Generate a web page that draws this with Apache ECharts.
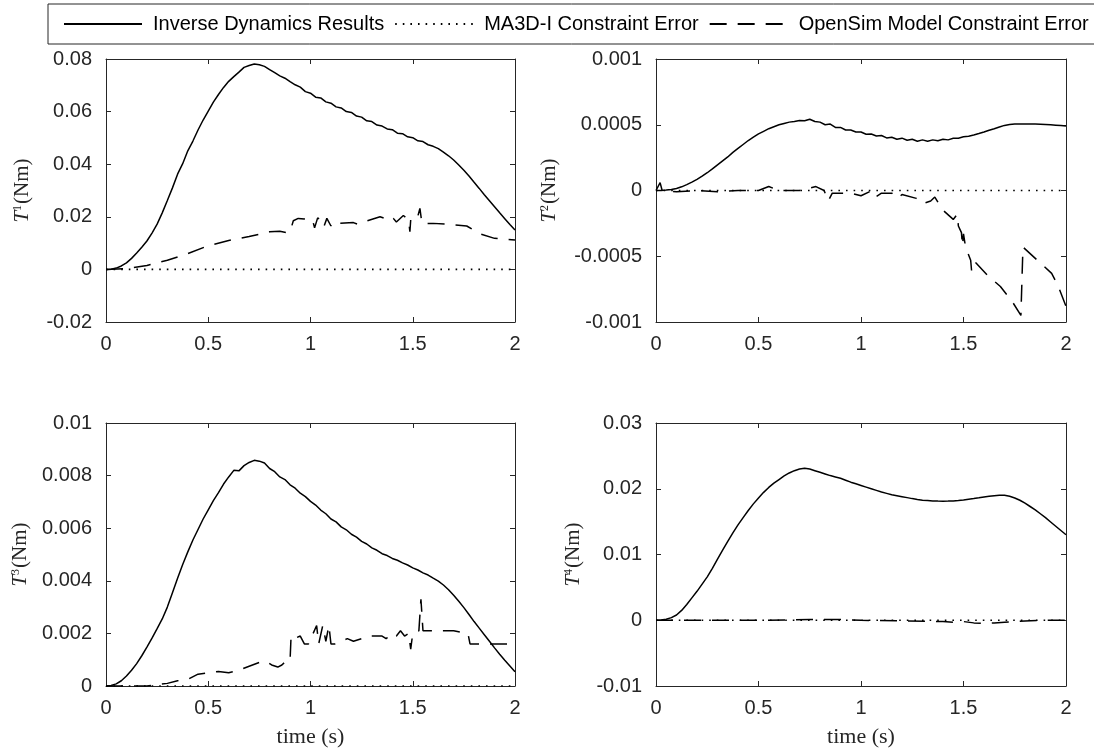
<!DOCTYPE html>
<html><head><meta charset="utf-8">
<script src="https://cdn.jsdelivr.net/npm/echarts@6/dist/echarts.min.js"></script>
<style>html,body{margin:0;padding:0;background:#fff}#c{width:1094px;height:752px}</style>
</head><body><div id="c"></div><script>
// ---- data ----
const seriesNames = ['Inverse Dynamics Results', 'MA3D-I Constraint Error', 'OpenSim Model Constraint Error'];
const xTicks = [0, 0.5, 1, 1.5, 2];
const time = [0,0.025,0.05,0.075,0.1,0.125,0.15,0.175,0.2,0.225,0.25,0.275,0.3,0.325,0.35,0.375,0.4,0.425,0.45,0.475,
  0.5,0.525,0.55,0.575,0.6,0.625,0.65,0.675,0.7,0.725,0.75,0.775,0.8,0.825,0.85,0.875,0.9,0.925,0.95,0.975,
  1.0,1.025,1.05,1.075,1.1,1.125,1.15,1.175,1.2,1.225,1.25,1.275,1.3,1.325,1.35,1.375,1.4,1.425,1.45,1.475,
  1.5,1.525,1.55,1.575,1.6,1.625,1.65,1.675,1.7,1.725,1.75,1.775,1.8,1.825,1.85,1.875,1.9,1.925,1.95,1.975,2.0];

// Inverse dynamics results (Nm)
const t1Solid = [0,0.0001,0.0005,0.0013,0.0025,0.0042,0.0062,0.0084,0.0108,0.0138,0.0172,0.0215,0.0262,0.0310,0.0362,0.0402,
  0.0451,0.0488,0.0530,0.0568,0.0602,0.0636,0.0665,0.0692,0.0715,0.0733,0.0750,0.0768,0.0775,0.0781,0.0778,0.0772,0.0760,
  0.0748,0.0736,0.0727,0.0714,0.0702,0.0693,0.0676,0.0670,0.0655,0.0652,0.0637,0.0632,0.0618,0.0614,0.0600,0.0597,0.0583,
  0.0579,0.0565,0.0562,0.0549,0.0545,0.0534,0.0531,0.0518,0.0516,0.0504,0.0501,0.0489,0.0486,0.0474,0.0468,0.0459,0.0446,
  0.0432,0.0416,0.0397,0.0377,0.0355,0.0331,0.0308,0.0284,0.0261,0.0238,0.0215,0.0193,0.0171,0.0150];
const t2Solid = [0,0.005e-4,0.03e-4,0.08e-4,0.15e-4,0.28e-4,0.45e-4,0.64e-4,0.85e-4,1.09e-4,1.35e-4,1.64e-4,1.95e-4,2.25e-4,
  2.55e-4,2.9e-4,3.2e-4,3.5e-4,3.8e-4,4.05e-4,4.3e-4,4.5e-4,4.7e-4,4.85e-4,5.0e-4,5.1e-4,5.2e-4,5.25e-4,5.33e-4,5.3e-4,
  5.42e-4,5.25e-4,5.2e-4,5.0e-4,5.05e-4,4.8e-4,4.8e-4,4.6e-4,4.6e-4,4.45e-4,4.45e-4,4.28e-4,4.3e-4,4.15e-4,4.18e-4,4.0e-4,
  4.05e-4,3.9e-4,3.98e-4,3.82e-4,3.9e-4,3.75e-4,3.85e-4,3.75e-4,3.85e-4,3.78e-4,3.9e-4,3.85e-4,3.97e-4,3.98e-4,4.08e-4,
  4.12e-4,4.22e-4,4.33e-4,4.45e-4,4.58e-4,4.7e-4,4.83e-4,4.95e-4,5.02e-4,5.05e-4,5.06e-4,5.06e-4,5.06e-4,5.05e-4,5.04e-4,
  5.02e-4,5.0e-4,4.97e-4,4.94e-4,4.9e-4];
const t3Solid = [0,0.02e-3,0.08e-3,0.2e-3,0.38e-3,0.6e-3,0.85e-3,1.15e-3,1.48e-3,1.82e-3,2.18e-3,2.55e-3,3.0e-3,3.55e-3,
  4.1e-3,4.62e-3,5.1e-3,5.55e-3,5.95e-3,6.35e-3,6.7e-3,7.05e-3,7.35e-3,7.68e-3,7.95e-3,8.2e-3,8.18e-3,8.38e-3,8.5e-3,
  8.58e-3,8.55e-3,8.48e-3,8.27e-3,8.15e-3,7.95e-3,7.85e-3,7.65e-3,7.52e-3,7.33e-3,7.2e-3,7.02e-3,6.88e-3,6.69e-3,6.55e-3,
  6.35e-3,6.24e-3,6.05e-3,5.94e-3,5.77e-3,5.66e-3,5.5e-3,5.4e-3,5.25e-3,5.16e-3,5.03e-3,4.96e-3,4.85e-3,4.78e-3,4.68e-3,
  4.6e-3,4.49e-3,4.41e-3,4.3e-3,4.22e-3,4.1e-3,3.99e-3,3.84e-3,3.66e-3,3.45e-3,3.22e-3,2.98e-3,2.72e-3,2.45e-3,2.2e-3,
  1.95e-3,1.7e-3,1.45e-3,1.21e-3,0.98e-3,0.76e-3,0.54e-3];
const t4Solid = [0,0.03e-3,0.15e-3,0.4e-3,0.8e-3,1.5e-3,2.4e-3,3.4e-3,4.4e-3,5.5e-3,6.6e-3,7.9e-3,9.3e-3,10.65e-3,12.0e-3,
  13.3e-3,14.5e-3,15.6e-3,16.7e-3,17.7e-3,18.6e-3,19.45e-3,20.2e-3,20.85e-3,21.4e-3,21.95e-3,22.4e-3,22.75e-3,23.0e-3,
  23.1e-3,23.0e-3,22.75e-3,22.5e-3,22.25e-3,22.0e-3,21.8e-3,21.6e-3,21.3e-3,21.0e-3,20.75e-3,20.5e-3,20.25e-3,20.0e-3,
  19.75e-3,19.5e-3,19.3e-3,19.1e-3,18.95e-3,18.8e-3,18.65e-3,18.5e-3,18.37e-3,18.25e-3,18.2e-3,18.15e-3,18.12e-3,18.1e-3,
  18.12e-3,18.15e-3,18.22e-3,18.3e-3,18.4e-3,18.5e-3,18.62e-3,18.75e-3,18.85e-3,18.95e-3,19.0e-3,19.0e-3,18.85e-3,18.6e-3,
  18.25e-3,17.8e-3,17.3e-3,16.8e-3,16.2e-3,15.6e-3,14.95e-3,14.3e-3,13.65e-3,13.0e-3];

// MA3D-I constraint error (zero everywhere)
const dotTime = [0, 2];
const dotValue = [0, 0];

// OpenSim model constraint error
const t1DashTime = [0,0.1,0.2,0.3,0.4,0.5,0.6,0.7,0.8,0.85,0.88,0.9,0.905,0.916,0.94,0.97,0.998,1.01,1.02,1.035,1.05,1.065,1.08,
  1.1,1.11,1.144,1.21,1.23,1.258,1.34,1.36,1.389,1.405,1.42,1.454,1.48,1.486,1.49,1.52,1.535,1.545,1.57,1.6,1.666,1.764,1.829,1.9,2.0];
const t1DashValue = [0,0.0003,0.0015,0.0035,0.006,0.009,0.011,0.0125,0.0143,0.0145,0.014,0.0143,0.0147,0.0185,0.0194,0.0192,
  0.0188,0.0188,0.0158,0.0196,0.0188,0.0162,0.0194,0.0165,0.018,0.0175,0.0178,0.0172,0.018,0.02,0.0195,0.0185,0.0194,0.018,
  0.0205,0.0188,0.0143,0.0188,0.0188,0.0232,0.0175,0.0175,0.0175,0.0172,0.0165,0.0135,0.0118,0.0112];

const t2DashTime = [0,0.02,0.03,0.1,0.2,0.3,0.4,0.5,0.55,0.6,0.7,0.78,0.82,0.84,0.86,0.9,0.95,1.0,1.04,1.06,1.1,1.15,1.18,1.2,
  1.27,1.3,1.34,1.36,1.4,1.45,1.47,1.475,1.49,1.495,1.5,1.51,1.535,1.54,1.56,1.62,1.68,1.74,1.78,1.79,1.86,1.93,1.96,2.0];
const t2DashValue = [0,0.00006,0,-0.00001,0,-0.00001,0,0,0.00003,0,0,0.00003,0,-0.00008,-0.00002,-0.00002,-0.00002,-0.00004,
  -0.00001,-0.00006,-0.00002,-0.00002,-0.00006,-0.00003,-0.00006,-0.0001,-0.00008,-0.00005,-0.00015,-0.00022,-0.00018,
  -0.00027,-0.00032,-0.00042,-0.00033,-0.00043,-0.00053,-0.00062,-0.00055,-0.00065,-0.00073,-0.00085,-0.00095,-0.00043,
  -0.00053,-0.00063,-0.00072,-0.00088];

const t3DashTime = [0,0.1,0.2,0.3,0.35,0.4,0.45,0.5,0.55,0.6,0.65,0.7,0.75,0.78,0.81,0.84,0.86,0.88,0.9,0.905,0.92,0.95,0.97,
  0.99,1.03,1.04,1.06,1.075,1.09,1.1,1.12,1.15,1.18,1.21,1.25,1.28,1.35,1.37,1.4,1.42,1.44,1.46,1.48,1.49,1.5,1.53,1.54,1.55,
  1.6,1.7,1.77,1.78,1.85,1.95,2.0];
const t3DashValue = [0,0,0,0.0001,0.0002,0.00025,0.00045,0.0005,0.00055,0.0005,0.0006,0.00075,0.0009,0.00095,0.0008,0.00072,
  0.0008,0.00095,0.00095,0.0019,0.0018,0.0019,0.0016,0.0016,0.0023,0.0016,0.0023,0.0017,0.0023,0.0016,0.0016,0.0017,0.0018,
  0.0017,0.0018,0.0019,0.0019,0.0018,0.002,0.0019,0.0021,0.0019,0.002,0.0014,0.002,0.0021,0.0033,0.0021,0.0021,0.0021,0.002,
  0.0016,0.0016,0.0016,0.0016];

const t4DashTime = [0,0.5,0.75,0.9,1.0,1.2,1.4,1.45,1.5,1.55,1.6,1.65,1.7,1.75,1.8,1.9,2.0];
const t4DashValue = [0,0,0.0001,0.0001,0,-0.0001,-0.0002,-0.0003,-0.0002,-0.0004,-0.0005,-0.0004,-0.0003,-0.0002,-0.0001,0,0];

// y axis ranges / tick labels
const yRanges = [
  {min: -0.02, max: 0.08, interval: 0.02},
  {min: -0.001, max: 0.001, interval: 0.0005},
  {min: 0, max: 0.01, interval: 0.002},
  {min: -0.01, max: 0.03, interval: 0.01}
];
const yNames = ['1', '2', '3', '4'];

// ---- chart ----
const pair = (ts, vs) => ts.map((t, i) => [t, vs[i]]);
const panels = [
  {solid: pair(time, t1Solid), dash: pair(t1DashTime, t1DashValue)},
  {solid: pair(time, t2Solid), dash: pair(t2DashTime, t2DashValue)},
  {solid: pair(time, t3Solid), dash: pair(t3DashTime, t3DashValue)},
  {solid: pair(time, t4Solid), dash: pair(t4DashTime, t4DashValue)}
];
const grids = [
  {left: 106, top: 59, width: 409, height: 263},
  {left: 656, top: 59, width: 410, height: 263},
  {left: 106, top: 423, width: 409, height: 263},
  {left: 656, top: 423, width: 410, height: 263}
];
const nameGaps = [73, 96, 75, 72];
const AX = '#262626';
const lineCommon = {show: true, onZero: false, lineStyle: {color: AX, width: 1}};
const tickCommon = {show: true, inside: true, length: 5, lineStyle: {color: AX, width: 1}};
const labelFont = {color: AX, fontSize: 20, fontFamily: 'Liberation Sans, Arial, sans-serif'};
const serif = 'Liberation Serif, Times New Roman, serif';

const xAxis = [], yAxis = [], series = [];
grids.forEach((g, i) => {
  const r = yRanges[i];
  xAxis.push({type: 'value', gridIndex: i, position: 'bottom', min: 0, max: 2, interval: 0.5,
    axisLine: lineCommon, axisTick: tickCommon, splitLine: {show: false},
    axisLabel: Object.assign({margin: 12, formatter: v => String(xTicks.find(x => Math.abs(x - v) < 1e-9) ?? v)}, labelFont),
    name: i >= 2 ? 'time (s)' : '', nameLocation: 'middle', nameGap: 40,
    nameTextStyle: {fontFamily: serif, fontSize: 22, color: AX}});
  xAxis.push({type: 'value', gridIndex: i, position: 'top', min: 0, max: 2, interval: 0.5,
    axisLine: lineCommon, axisTick: tickCommon, axisLabel: {show: false}, splitLine: {show: false}});
  yAxis.push({type: 'value', gridIndex: i, position: 'left', min: r.min, max: r.max, interval: r.interval,
    axisLine: lineCommon, axisTick: tickCommon, splitLine: {show: false},
    axisLabel: Object.assign({margin: 14, formatter: v => String(+v.toFixed(6))}, labelFont),
    name: '{i|T}{s|' + yNames[i] + '}{n|(Nm)}', nameLocation: 'middle', nameGap: nameGaps[i],
    nameTextStyle: {color: AX, fontFamily: serif, fontSize: 21,
      rich: {i: {fontStyle: 'italic', fontFamily: serif, fontSize: 21, color: AX},
             s: {fontFamily: serif, fontSize: 12, color: AX, verticalAlign: 'top', padding: [0, 1, 0, 0]},
             n: {fontFamily: serif, fontSize: 21, color: AX}}}});
  yAxis.push({type: 'value', gridIndex: i, position: 'right', min: r.min, max: r.max, interval: r.interval,
    axisLine: lineCommon, axisTick: tickCommon, axisLabel: {show: false}, splitLine: {show: false}});
  const base = {type: 'line', xAxisIndex: 2 * i, yAxisIndex: 2 * i, symbol: 'none', silent: true, animation: false, z: 3};
  series.push(Object.assign({}, base, {name: seriesNames[0], data: panels[i].solid,
    lineStyle: {color: '#000', width: 1.5, type: 'solid'}, itemStyle: {color: '#000'}}));
  series.push(Object.assign({}, base, {name: seriesNames[1], data: pair(dotTime, dotValue),
    lineStyle: {color: '#000', width: 1.6, type: [1.6, 6]}, itemStyle: {color: '#000'}}));
  series.push(Object.assign({}, base, {name: seriesNames[2], data: panels[i].dash,
    lineStyle: {color: '#000', width: 1.5, type: [17, 11]}, itemStyle: {color: '#000'}}));
});

const chart = echarts.init(document.getElementById('c'), null, {renderer: 'canvas'});
chart.setOption({
  backgroundColor: '#fff',
  animation: false,
  grid: grids,
  xAxis, yAxis, series,
  legend: {
    data: seriesNames, left: 48, top: 4, width: 1200, orient: 'horizontal',
    borderColor: AX, borderWidth: 1, padding: [10, 15, 10, 15],
    itemWidth: 78, itemHeight: 14, itemGap: 10,
    itemStyle: {opacity: 0},
    textStyle: {fontSize: 20, fontFamily: 'Liberation Sans, Arial, sans-serif', color: '#000', padding: [0, 0, 0, 6]},
    selectedMode: false
  }
});
</script></body></html>
